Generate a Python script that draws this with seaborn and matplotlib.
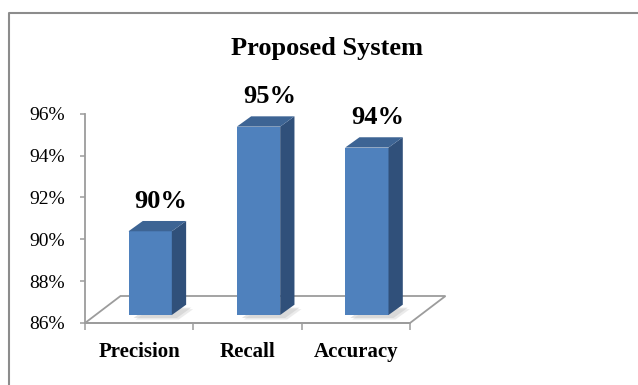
import matplotlib
matplotlib.use("Agg")
import matplotlib.pyplot as plt
import matplotlib.transforms as mtransforms
from matplotlib.patches import Polygon
from matplotlib.lines import Line2D
import numpy as np
import pandas as pd
import seaborn as sns

# ---- data ----
categories = ["Precision", "Recall", "Accuracy"]
values = [90, 95, 94]
value_labels = ["90%", "95%", "94%"]
y_ticks = [86, 88, 90, 92, 94, 96]
y_tick_labels = ["86%", "88%", "90%", "92%", "94%", "96%"]
title = "Proposed System"

# ---- style ----
FRONT = "#4F81BD"
TOP = "#3D6494"
SIDE = "#30507A"
AXC = "#9c9c9c"

sns.set_theme(style="white")
plt.rcParams["font.family"] = ["Liberation Serif", "DejaVu Serif"]

DPI = 100
W, H = 638, 385
fig = plt.figure(figsize=(W / DPI, H / DPI), dpi=DPI)
ax_l, ax_r, ax_t, ax_b = 85, 410, 113.7, 323
ax = fig.add_axes([ax_l / W, 1 - ax_b / H, (ax_r - ax_l) / W, (ax_b - ax_t) / H])
ax.patch.set_alpha(0)

df = pd.DataFrame({"metric": categories, "value": values})
sns.barplot(data=df, x="metric", y="value", order=categories, ax=ax,
            color=FRONT, saturation=1, width=0.4, zorder=6)
ax.set_xlim(-0.5, 2.5)
ax.set_ylim(y_ticks[0], y_ticks[-1])
base = y_ticks[0]

ident = mtransforms.IdentityTransform()
floor_depth = np.array([35.5, 27.0])   # px
front_off = np.array([11.0, 8.0])      # px, bar front face position in depth
bar_depth = np.array([14.3, 10.3])     # px

# floor
fl = ax.transData.transform([(-0.5, base), (2.5, base)])
floor_pts = [fl[0], fl[1], fl[1] + floor_depth, fl[0] + floor_depth]
ax.add_patch(Polygon(floor_pts, closed=True, transform=ident, clip_on=False,
                     facecolor="white", edgecolor=AXC, lw=1.3, zorder=1))

shift = mtransforms.ScaledTranslation(front_off[0] / DPI, front_off[1] / DPI,
                                      fig.dpi_scale_trans)

bars = [pp for pp in ax.patches if pp.get_zorder() == 6]
for p, v in zip(bars, values):
    x0, w = p.get_x(), p.get_width()
    p.set_y(base)
    p.set_height(v - base)
    p.set_transform(ax.transData + shift)
    p.set_clip_on(False)
    p.set_edgecolor("none")
    c = ax.transData.transform([(x0, base), (x0 + w, base), (x0 + w, v), (x0, v)]) + front_off
    lb, rb, rt, lt = c
    # soft shadow
    for k, (sx, sy, a) in enumerate([(7.0, -4.5, 0.35), (5.0, -3.0, 0.5)]):
        sh = np.array([sx, sy])
        shadow = [lb + sh, rb + sh, rb + bar_depth + sh, lb + bar_depth + sh]
        ax.add_patch(Polygon(shadow, closed=True, transform=ident, clip_on=False,
                             facecolor="#c8c8c8", edgecolor="none", alpha=a, zorder=4))
    side = [rb, rt, rt + bar_depth, rb + bar_depth]
    ax.add_patch(Polygon(side, closed=True, transform=ident, clip_on=False,
                         facecolor=SIDE, edgecolor="none", zorder=7))
    top = [lt, rt, rt + bar_depth, lt + bar_depth]
    ax.add_patch(Polygon(top, closed=True, transform=ident, clip_on=False,
                         facecolor=TOP, edgecolor="none", zorder=7))

ax.set_xlim(-0.5, 2.5)
ax.set_ylim(y_ticks[0], y_ticks[-1])

# data labels
for i, (v, lab) in enumerate(zip(values, value_labels)):
    ax.annotate(lab, xy=(i, v), xytext=(22 * 0.72, 38 * 0.72), textcoords="offset points",
                ha="center", va="center", fontsize=19, fontweight="bold",
                color="black", zorder=10, annotation_clip=False)

# axes styling
for s in ["top", "right"]:
    ax.spines[s].set_visible(False)
for s in ["left", "bottom"]:
    ax.spines[s].set_color(AXC)
    ax.spines[s].set_linewidth(1.3)
    ax.spines[s].set_zorder(2)

ax.set_yticks(y_ticks, y_tick_labels)
ax.tick_params(axis="y", left=True, direction="out", length=3.6, width=1.1,
               color=AXC, pad=11, labelsize=14, labelcolor="black")
ax.set_xticks(range(len(categories)), categories)
ax.set_xticks([-0.5, 0.5, 1.5, 2.5], minor=True)
ax.tick_params(axis="x", which="major", bottom=False, length=0, pad=14,
               labelsize=15, labelcolor="black")
ax.tick_params(axis="x", which="minor", bottom=True, direction="out", length=5,
               width=1.1, color=AXC)
for t in ax.get_xticklabels():
    t.set_fontweight("bold")
ax.set_xlabel("")
ax.set_ylabel("")

fig.text(327 / W, 1 - 48 / H, title, ha="center", va="center",
         fontsize=19, fontweight="bold", color="black")

# chart border
fig.add_artist(Line2D([8.5 / W, 8.5 / W, 1.01], [-0.01, 1 - 12.5 / H, 1 - 12.5 / H],
                      transform=fig.transFigure, color="#8c8c8c", lw=1.5))

fig.savefig("out.png", dpi=DPI)
